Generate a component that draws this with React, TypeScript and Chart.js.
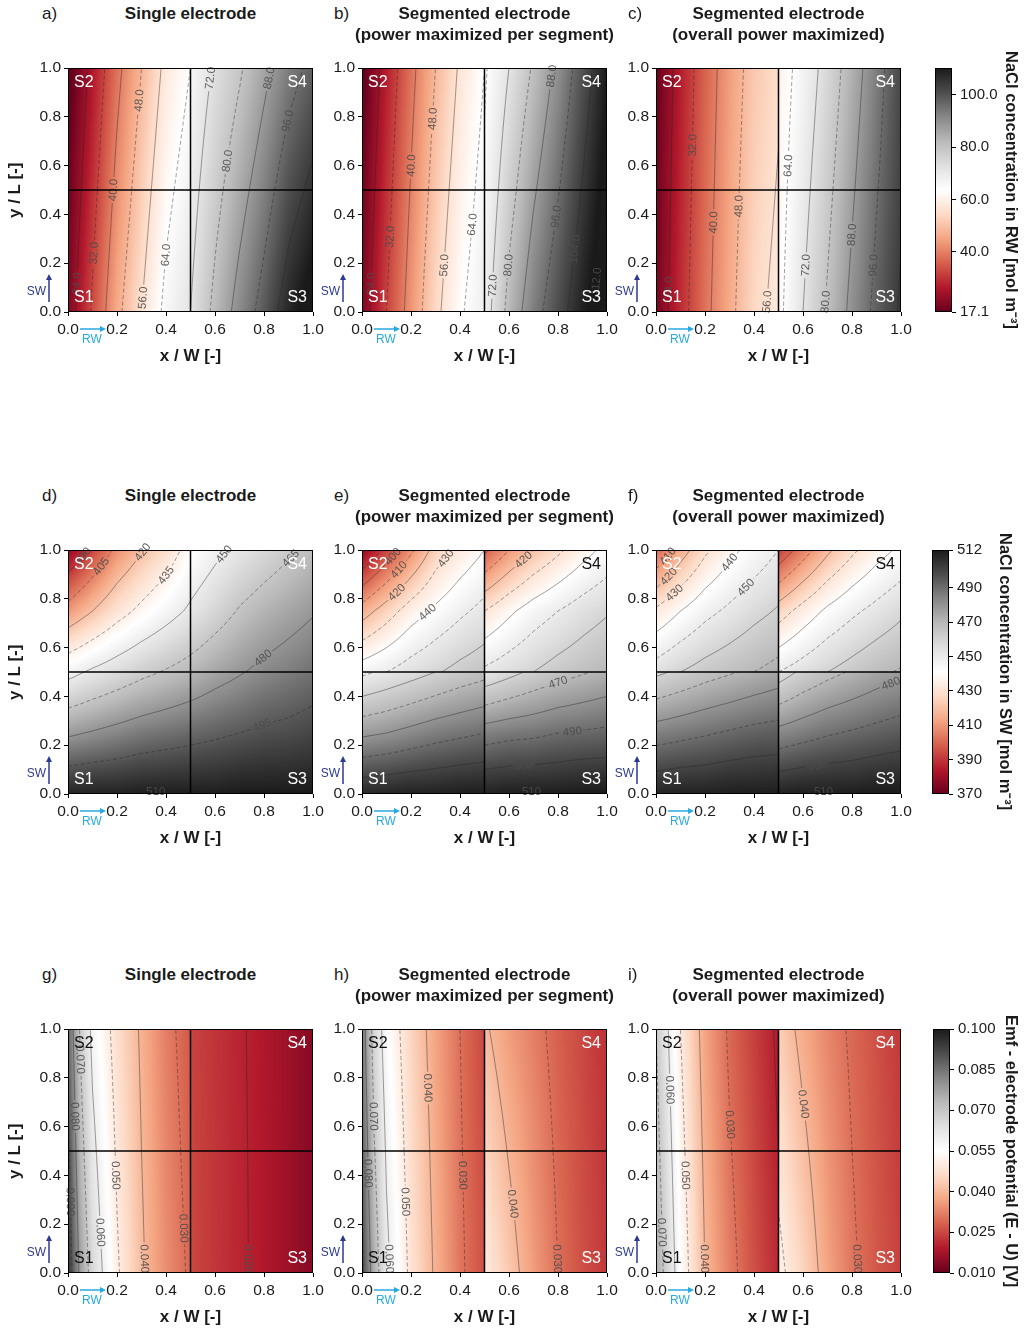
import React, { useEffect, useRef } from "react";
import { Chart, registerables } from "chart.js";
Chart.register(...registerables);

const FONT = "'Liberation Sans', Arial, Helvetica, sans-serif";

// ---------------- colour map (RdGy) ----------------
const RDGY = ["#67001f", "#b2182b", "#d6604d", "#f4a582", "#fddbc7", "#ffffff", "#e0e0e0", "#bababa", "#878787", "#4d4d4d", "#1a1a1a"];

// ---------------- value ranges, ticks, contour levels ----------------
const RW_RANGE = [17.1, 110.2];
const SW_RANGE = [370, 512];
const EMF_RANGE = [0.01, 0.1];
const RW_CB_TICKS = [17.1, 40, 60, 80, 100];
const SW_CB_TICKS = [370, 390, 410, 430, 450, 470, 490, 512];
const EMF_CB_TICKS = [0.01, 0.025, 0.04, 0.055, 0.07, 0.085, 0.1];
const RW_LEVELS = [24, 32, 40, 48, 56, 64, 72, 80, 88, 96, 104, 112];
const SW_LEVELS_D = [390, 405, 420, 435, 450, 465, 480, 495, 510];
const SW_LEVELS_EF = [380, 390, 400, 410, 420, 430, 440, 450, 460, 470, 480, 490, 500, 510];
const EMF_LEVELS = [0.02, 0.03, 0.04, 0.05, 0.06, 0.07, 0.08, 0.09];
const AXIS_TICKS = [0, 0.2, 0.4, 0.6, 0.8, 1.0];

// ---------------- grid nodes (x / W, y / L) ----------------
const X_LEFT = [0, 0.1, 0.2, 0.3, 0.4, 0.5];
const X_RIGHT = [0.5, 0.6, 0.7, 0.8, 0.9, 1.0];
const X_LEFT_EMF = [0, 0.05, 0.1, 0.2, 0.3, 0.4, 0.5];
const Y_LOW2 = [0, 0.5];
const Y_HIGH2 = [0.5, 1.0];
const Y_LOW3 = [0, 0.25, 0.5];
const Y_HIGH3 = [0.5, 0.75, 1.0];

// ---------------- RW concentration (rows = increasing y) ----------------
const A_S1 = [[20, 33, 46, 56, 66, 72], [17.5, 29.5, 42, 52, 62, 68]];
const A_S2 = [[17.5, 29.5, 42, 52, 62, 68], [15, 26, 38, 48, 58, 64]];
const A_S3 = [[72, 82, 91, 99, 108, 114], [69, 77.5, 85, 92.5, 100.5, 106]];
const A_S4 = [[69, 77.5, 85, 92.5, 100.5, 106], [66, 73, 79, 86, 93, 98]];

const B_S1 = [[20, 32, 43, 54, 63, 69], [18, 29.5, 40.5, 51, 60, 66.5]];
const B_S2 = [[18, 29.5, 40.5, 51, 60, 66.5], [16, 27, 38, 48, 57, 64]];
const B_S3 = [[68, 82.5, 93, 101, 109, 116], [65.5, 77, 87, 95.5, 104.5, 113]];
const B_S4 = [[65.5, 77, 87, 95.5, 104.5, 113], [63, 72, 81, 90, 100, 110]];

const C_S1 = [[19, 29, 38, 46, 54, 58], [18, 28, 37, 45, 52.5, 56.5]];
const C_S2 = [[18, 28, 37, 45, 52.5, 56.5], [17, 27, 36, 44, 51, 55]];
const C_S3 = [[62, 72, 81, 90, 98, 105], [61, 69.5, 78, 87, 95.5, 103]];
const C_S4 = [[61, 69.5, 78, 87, 95.5, 103], [60, 67, 75, 84, 93, 102]];

// ---------------- SW concentration ----------------
const D_S1 = [[509, 510, 510, 511, 511, 511], [478, 481, 484, 487, 489, 491], [446, 452, 457, 462, 466, 470]];
const D_S2 = [[446, 452, 457, 462, 466, 470], [410, 420, 430, 438, 445, 452], [378, 393, 408, 419, 428, 440]];
const D_S3 = [[511, 511, 512, 512, 512, 512], [491, 493, 495, 497, 498, 500], [470, 475, 479, 483, 486, 489]];
const D_S4 = [[470, 475, 479, 483, 486, 489], [452, 459, 466, 471, 475, 479], [440, 447, 453, 458, 463, 468]];

const E_S1 = [[508, 509, 510, 510, 511, 511], [478, 480, 483, 486, 488, 490], [448, 452, 456, 460, 464, 467]];
const E_S2 = [[446, 450, 455, 459, 463, 466], [415, 425, 435, 442, 448, 453], [378, 393, 408, 424, 433, 440]];
const E_S3 = [[510, 511, 511, 511, 512, 512], [485, 487, 488, 490, 491, 492], [452, 457, 462, 466, 469, 472]];
const E_S4 = [[452, 456, 460, 464, 467, 470], [430, 438, 445, 450, 455, 459], [398, 410, 420, 428, 436, 443]];

const F_S1 = [[509, 510, 510, 511, 511, 511], [485, 487, 489, 491, 493, 494], [458, 462, 466, 469, 472, 475]];
const F_S2 = [[455, 460, 464, 467, 470, 473], [432, 440, 447, 452, 457, 461], [400, 415, 428, 437, 444, 450]];
const F_S3 = [[510, 511, 511, 511, 512, 512], [483, 486, 489, 491, 493, 495], [455, 462, 467, 471, 475, 478]];
const F_S4 = [[450, 455, 460, 464, 468, 471], [425, 434, 442, 448, 453, 458], [392, 405, 418, 428, 436, 442]];

// ---------------- Emf - electrode potential ----------------
const G_S1 = [[0.096, 0.078, 0.066, 0.051, 0.041, 0.034, 0.029], [0.092, 0.0735, 0.062, 0.049, 0.04, 0.033, 0.028]];
const G_S2 = [[0.092, 0.0735, 0.062, 0.049, 0.04, 0.033, 0.028], [0.088, 0.069, 0.058, 0.047, 0.039, 0.032, 0.027]];
const G_S3 = [[0.025, 0.0228, 0.0207, 0.0188, 0.0165, 0.0135], [0.0248, 0.0227, 0.0206, 0.0188, 0.0165, 0.0135]];
const G_S4 = [[0.0248, 0.0227, 0.0206, 0.0188, 0.0165, 0.0135], [0.0245, 0.0225, 0.0205, 0.0187, 0.0164, 0.0135]];

const H_S1 = [[0.092, 0.075, 0.062, 0.048, 0.039, 0.031, 0.026], [0.0885, 0.0705, 0.059, 0.0465, 0.038, 0.0305, 0.0255]];
const H_S2 = [[0.0885, 0.0705, 0.059, 0.0465, 0.038, 0.0305, 0.0255], [0.085, 0.066, 0.056, 0.045, 0.037, 0.03, 0.025]];
const H_S3 = [[0.05, 0.043, 0.036, 0.03, 0.026, 0.023], [0.0455, 0.0395, 0.034, 0.029, 0.0255, 0.0225]];
const H_S4 = [[0.0455, 0.0395, 0.034, 0.029, 0.0255, 0.0225], [0.041, 0.036, 0.032, 0.028, 0.025, 0.022]];

const I_S1 = [[0.076, 0.066, 0.055, 0.04, 0.032, 0.026, 0.021], [0.073, 0.063, 0.0525, 0.0385, 0.0305, 0.025, 0.02]];
const I_S2 = [[0.073, 0.063, 0.0525, 0.0385, 0.0305, 0.025, 0.02], [0.07, 0.06, 0.05, 0.037, 0.029, 0.024, 0.019]];
const I_S3 = [[0.052, 0.045, 0.037, 0.031, 0.027, 0.024], [0.048, 0.0415, 0.035, 0.03, 0.0265, 0.0235]];
const I_S4 = [[0.048, 0.0415, 0.035, 0.03, 0.0265, 0.0235], [0.044, 0.038, 0.033, 0.029, 0.026, 0.023]];

// ---------------- contour label positions [level, x, y] ----------------
const A_LABELS = [[24, 0.03, 0.12], [32, 0.11, 0.24], [40, 0.18, 0.5], [48, 0.27, 0.87], [56, 0.31, 0.06], [64, 0.39, 0.23], [72, 0.58, 0.96], [80, 0.66, 0.62], [88, 0.86, 0.95], [96, 0.98, 0.77]];
const B_LABELS = [[24, 0.03, 0.12], [32, 0.12, 0.31], [40, 0.19, 0.6], [48, 0.28, 0.79], [56, 0.35, 0.19], [64, 0.46, 0.36], [72, 0.53, 0.105], [80, 0.6, 0.19], [88, 0.77, 0.97], [96, 0.8, 0.39], [104, 0.88, 0.26], [112, 0.97, 0.12]];
const C_LABELS = [[24, 0.03, 0.1], [32, 0.14, 0.68], [40, 0.23, 0.365], [48, 0.34, 0.43], [56, 0.44, 0.04], [64, 0.55, 0.6], [72, 0.62, 0.19], [80, 0.69, 0.04], [88, 0.81, 0.32], [96, 0.9, 0.19]];
const D_LABELS = [[390, 0.08, 0.96], [405, 0.16, 0.92], [420, 0.33, 0.97], [435, 0.41, 0.89], [450, 0.65, 0.97], [465, 0.92, 0.96], [480, 0.78, 0.58], [495, 0.78, 0.3], [510, 0.36, 0.02]];
const E_LABELS = [[400, 0.13, 0.97], [410, 0.15, 0.92], [420, 0.15, 0.82], [430, 0.35, 0.96], [440, 0.27, 0.74], [420, 0.66, 0.96], [470, 0.795, 0.47], [490, 0.86, 0.27], [500, 0.66, 0.11], [510, 0.69, 0.02]];
const F_LABELS = [[410, 0.05, 0.97], [420, 0.07, 0.88], [430, 0.095, 0.8], [440, 0.29, 0.96], [450, 0.33, 0.88], [480, 0.96, 0.46], [500, 0.66, 0.12], [510, 0.68, 0.02]];
const G_LABELS = [[0.07, 0.053, 0.875], [0.08, 0.026, 0.64], [0.09, 0.012, 0.29], [0.06, 0.14, 0.17], [0.05, 0.2, 0.4], [0.04, 0.32, 0.06], [0.03, 0.475, 0.18], [0.02, 0.74, 0.06]];
const H_LABELS = [[0.07, 0.045, 0.64], [0.08, 0.016, 0.41], [0.06, 0.11, 0.06], [0.05, 0.17, 0.29], [0.04, 0.26, 0.76], [0.03, 0.41, 0.4], [0.04, 0.57, 0.28], [0.03, 0.79, 0.06]];
const I_LABELS = [[0.06, 0.054, 0.75], [0.05, 0.11, 0.4], [0.07, 0.02, 0.17], [0.04, 0.2, 0.06], [0.03, 0.32, 0.61], [0.04, 0.585, 0.69], [0.03, 0.79, 0.06]];

// ---------------- text ----------------
const TITLE_SINGLE = ["Single electrode"];
const TITLE_SEG = ["Segmented electrode", "(power maximized per segment)"];
const TITLE_OVR = ["Segmented electrode", "(overall power maximized)"];
const CB_LABELS = ["NaCl concentration in RW [mol m\u207B\u00B3]", "NaCl concentration in SW [mol m\u207B\u00B3]", "Emf - electrode potential (E - U) [V]"];
const SEG_NAMES = ["S1", "S2", "S3", "S4"];

// ---------------- layout ----------------
const ROW_TOP = [68, 550, 1029];
const COL_LEFT = [68, 362, 656];
const LETTER_LEFT = [42, 334, 628];
const PLOT_W = 245;
const PLOT_H = 244;
const CB_LEFT = [935, 932, 933];
const CB_W = 17;
const CB_LABEL_X = [1012, 1006, 1012];

const fmtRW = (v: number) => v.toFixed(1);
const fmtSW = (v: number) => String(Math.round(v));
const fmtEMF = (v: number) => v.toFixed(3);

type Quad = { xs: number[]; ys: number[]; z: number[][]; x0: number; x1: number; y0: number; y1: number };
type PanelDef = {
  id: string; row: number; col: number; title: string[]; range: number[]; levels: number[];
  fmt: (v: number) => string; quads: Quad[]; labels: number[][]; segColors: string[];
};

function makeQuads(xl: number[], yb: number[], yt: number[], s: number[][][]): Quad[] {
  return [
    { xs: xl, ys: yb, z: s[0], x0: 0, x1: 0.5, y0: 0, y1: 0.5 },
    { xs: xl, ys: yt, z: s[1], x0: 0, x1: 0.5, y0: 0.5, y1: 1 },
    { xs: X_RIGHT, ys: yb, z: s[2], x0: 0.5, x1: 1, y0: 0, y1: 0.5 },
    { xs: X_RIGHT, ys: yt, z: s[3], x0: 0.5, x1: 1, y0: 0.5, y1: 1 },
  ];
}

const W4 = ["#fff", "#fff", "#fff", "#fff"];
const PANELS: PanelDef[] = [
  { id: "a", row: 0, col: 0, title: TITLE_SINGLE, range: RW_RANGE, levels: RW_LEVELS, fmt: fmtRW, quads: makeQuads(X_LEFT, Y_LOW2, Y_HIGH2, [A_S1, A_S2, A_S3, A_S4]), labels: A_LABELS, segColors: W4 },
  { id: "b", row: 0, col: 1, title: TITLE_SEG, range: RW_RANGE, levels: RW_LEVELS, fmt: fmtRW, quads: makeQuads(X_LEFT, Y_LOW2, Y_HIGH2, [B_S1, B_S2, B_S3, B_S4]), labels: B_LABELS, segColors: W4 },
  { id: "c", row: 0, col: 2, title: TITLE_OVR, range: RW_RANGE, levels: RW_LEVELS, fmt: fmtRW, quads: makeQuads(X_LEFT, Y_LOW2, Y_HIGH2, [C_S1, C_S2, C_S3, C_S4]), labels: C_LABELS, segColors: W4 },
  { id: "d", row: 1, col: 0, title: TITLE_SINGLE, range: SW_RANGE, levels: SW_LEVELS_D, fmt: fmtSW, quads: makeQuads(X_LEFT, Y_LOW3, Y_HIGH3, [D_S1, D_S2, D_S3, D_S4]), labels: D_LABELS, segColors: W4 },
  { id: "e", row: 1, col: 1, title: TITLE_SEG, range: SW_RANGE, levels: SW_LEVELS_EF, fmt: fmtSW, quads: makeQuads(X_LEFT, Y_LOW3, Y_HIGH3, [E_S1, E_S2, E_S3, E_S4]), labels: E_LABELS, segColors: ["#fff", "#fff", "#fff", "#111"] },
  { id: "f", row: 1, col: 2, title: TITLE_OVR, range: SW_RANGE, levels: SW_LEVELS_EF, fmt: fmtSW, quads: makeQuads(X_LEFT, Y_LOW3, Y_HIGH3, [F_S1, F_S2, F_S3, F_S4]), labels: F_LABELS, segColors: ["#fff", "#fff", "#fff", "#111"] },
  { id: "g", row: 2, col: 0, title: TITLE_SINGLE, range: EMF_RANGE, levels: EMF_LEVELS, fmt: fmtEMF, quads: makeQuads(X_LEFT_EMF, Y_LOW2, Y_HIGH2, [G_S1, G_S2, G_S3, G_S4]), labels: G_LABELS, segColors: ["#111", "#111", "#fff", "#fff"] },
  { id: "h", row: 2, col: 1, title: TITLE_SEG, range: EMF_RANGE, levels: EMF_LEVELS, fmt: fmtEMF, quads: makeQuads(X_LEFT_EMF, Y_LOW2, Y_HIGH2, [H_S1, H_S2, H_S3, H_S4]), labels: H_LABELS, segColors: ["#111", "#111", "#fff", "#fff"] },
  { id: "i", row: 2, col: 2, title: TITLE_OVR, range: EMF_RANGE, levels: EMF_LEVELS, fmt: fmtEMF, quads: makeQuads(X_LEFT_EMF, Y_LOW2, Y_HIGH2, [I_S1, I_S2, I_S3, I_S4]), labels: I_LABELS, segColors: ["#111", "#111", "#fff", "#fff"] },
];

const COLORBARS = [
  { row: 0, range: RW_RANGE, ticks: RW_CB_TICKS, fmt: fmtRW, label: CB_LABELS[0] },
  { row: 1, range: SW_RANGE, ticks: SW_CB_TICKS, fmt: fmtSW, label: CB_LABELS[1] },
  { row: 2, range: EMF_RANGE, ticks: EMF_CB_TICKS, fmt: fmtEMF, label: CB_LABELS[2] },
];

// ---------------- helpers ----------------
const STOPS = RDGY.map((h) => [parseInt(h.slice(1, 3), 16), parseInt(h.slice(3, 5), 16), parseInt(h.slice(5, 7), 16)]);
function cmap(t: number): number[] {
  const tt = Math.min(1, Math.max(0, t)) * (STOPS.length - 1);
  const i = Math.min(STOPS.length - 2, Math.floor(tt));
  const f = tt - i;
  const a = STOPS[i], b = STOPS[i + 1];
  return [a[0] + (b[0] - a[0]) * f, a[1] + (b[1] - a[1]) * f, a[2] + (b[2] - a[2]) * f];
}

function bilinear(q: Quad, x: number, y: number): number {
  const { xs, ys, z } = q;
  let i = 0;
  while (i < xs.length - 2 && x > xs[i + 1]) i++;
  let j = 0;
  while (j < ys.length - 2 && y > ys[j + 1]) j++;
  const tx = Math.min(1, Math.max(0, (x - xs[i]) / (xs[i + 1] - xs[i])));
  const ty = Math.min(1, Math.max(0, (y - ys[j]) / (ys[j + 1] - ys[j])));
  const v0 = z[j][i] * (1 - tx) + z[j][i + 1] * tx;
  const v1 = z[j + 1][i] * (1 - tx) + z[j + 1][i + 1] * tx;
  return v0 * (1 - ty) + v1 * ty;
}

function quadFor(p: PanelDef, x: number, y: number): Quad {
  return p.quads[x < 0.5 ? (y < 0.5 ? 0 : 1) : y < 0.5 ? 2 : 3];
}

type Pt = [number, number];
function sampleQuad(q: Quad, N: number): number[][] {
  const vals: number[][] = [];
  for (let j = 0; j <= N; j++) {
    const row: number[] = [];
    const y = q.y0 + ((q.y1 - q.y0) * j) / N;
    for (let i = 0; i <= N; i++) row.push(bilinear(q, q.x0 + ((q.x1 - q.x0) * i) / N, y));
    vals.push(row);
  }
  return vals;
}

function marching(vals: number[][], q: Quad, N: number, lv: number): Pt[][] {
  const gx = (i: number) => q.x0 + ((q.x1 - q.x0) * i) / N;
  const gy = (j: number) => q.y0 + ((q.y1 - q.y0) * j) / N;
  const pts = new Map<string, Pt>();
  const adj = new Map<string, string[]>();
  const link = (a: string, b: string) => {
    if (!adj.has(a)) adj.set(a, []);
    if (!adj.has(b)) adj.set(b, []);
    adj.get(a)!.push(b);
    adj.get(b)!.push(a);
  };
  for (let j = 0; j < N; j++) {
    for (let i = 0; i < N; i++) {
      const a = vals[j][i], b = vals[j][i + 1], c = vals[j + 1][i + 1], d = vals[j + 1][i];
      const edges: string[] = [];
      const test = (va: number, vb: number, key: string, p0: Pt, p1: Pt) => {
        if (va >= lv !== vb >= lv) {
          const t = (lv - va) / (vb - va);
          if (!pts.has(key)) pts.set(key, [p0[0] + (p1[0] - p0[0]) * t, p0[1] + (p1[1] - p0[1]) * t]);
          edges.push(key);
        } else edges.push("");
      };
      test(a, b, `h${i},${j}`, [gx(i), gy(j)], [gx(i + 1), gy(j)]);
      test(b, c, `v${i + 1},${j}`, [gx(i + 1), gy(j)], [gx(i + 1), gy(j + 1)]);
      test(d, c, `h${i},${j + 1}`, [gx(i), gy(j + 1)], [gx(i + 1), gy(j + 1)]);
      test(a, d, `v${i},${j}`, [gx(i), gy(j)], [gx(i), gy(j + 1)]);
      const act = edges.filter((e) => e);
      if (act.length === 2) link(act[0], act[1]);
      else if (act.length === 4) {
        const center = (a + b + c + d) / 4;
        if (center >= lv === a >= lv) {
          link(edges[0], edges[1]);
          link(edges[2], edges[3]);
        } else {
          link(edges[0], edges[3]);
          link(edges[2], edges[1]);
        }
      }
    }
  }
  const visited = new Set<string>();
  const lines: Pt[][] = [];
  const walk = (start: string) => {
    const line: Pt[] = [pts.get(start)!];
    visited.add(start);
    let cur = start;
    for (;;) {
      const next = (adj.get(cur) || []).find((n) => !visited.has(n));
      if (!next) break;
      visited.add(next);
      line.push(pts.get(next)!);
      cur = next;
    }
    return line;
  };
  adj.forEach((n, k) => {
    if (n.length === 1 && !visited.has(k)) lines.push(walk(k));
  });
  adj.forEach((_n, k) => {
    if (!visited.has(k)) lines.push(walk(k));
  });
  return lines;
}

function drawArrow(ctx: CanvasRenderingContext2D, x0: number, y0: number, x1: number, y1: number, color: string) {
  const ang = Math.atan2(y1 - y0, x1 - x0);
  const hl = 6, hw = 3;
  ctx.save();
  ctx.strokeStyle = color;
  ctx.fillStyle = color;
  ctx.lineWidth = 1.5;
  ctx.beginPath();
  ctx.moveTo(x0, y0);
  ctx.lineTo(x1 - Math.cos(ang) * hl * 0.8, y1 - Math.sin(ang) * hl * 0.8);
  ctx.stroke();
  ctx.beginPath();
  ctx.moveTo(x1, y1);
  ctx.lineTo(x1 - Math.cos(ang) * hl - Math.sin(ang) * hw, y1 - Math.sin(ang) * hl + Math.cos(ang) * hw);
  ctx.lineTo(x1 - Math.cos(ang) * hl + Math.sin(ang) * hw, y1 - Math.sin(ang) * hl - Math.cos(ang) * hw);
  ctx.closePath();
  ctx.fill();
  ctx.restore();
}

// ---------------- panel chart ----------------
const PAD_L = 50, PAD_T = 14, PAD_R = 18, PAD_B = 34;
const CANVAS_W = PAD_L + PLOT_W + PAD_R;
const CANVAS_H = PAD_T + PLOT_H + PAD_B;
const TICK_FONT = 15.5;

function fieldPlugin(p: PanelDef) {
  return {
    id: "field_" + p.id,
    afterDraw(chart: any) {
      const ctx: CanvasRenderingContext2D = chart.ctx;
      const xs = chart.scales.x, ys = chart.scales.y;
      const ca = chart.chartArea;
      const L = Math.round(ca.left), T = Math.round(ca.top), R = Math.round(ca.right), B = Math.round(ca.bottom);
      const w = R - L, h = B - T;
      const [vmin, vmax] = p.range;
      // heat map
      const off = document.createElement("canvas");
      off.width = w;
      off.height = h;
      const octx = off.getContext("2d")!;
      const img = octx.createImageData(w, h);
      const xv: number[] = [], yv: number[] = [];
      for (let i = 0; i < w; i++) xv.push(xs.getValueForPixel(L + i + 0.5));
      for (let j = 0; j < h; j++) yv.push(ys.getValueForPixel(T + j + 0.5));
      for (let j = 0; j < h; j++) {
        for (let i = 0; i < w; i++) {
          const v = bilinear(quadFor(p, xv[i], yv[j]), xv[i], yv[j]);
          const c = cmap((v - vmin) / (vmax - vmin));
          const k = (j * w + i) * 4;
          img.data[k] = c[0];
          img.data[k + 1] = c[1];
          img.data[k + 2] = c[2];
          img.data[k + 3] = 255;
        }
      }
      octx.putImageData(img, 0, 0);
      ctx.save();
      ctx.drawImage(off, L, T);

      // contours
      const N = 60;
      const lines: { level: number; idx: number; pts: Pt[] }[] = [];
      p.quads.forEach((q) => {
        const vals = sampleQuad(q, N);
        p.levels.forEach((lv, idx) => {
          marching(vals, q, N, lv).forEach((ln) => {
            if (ln.length < 2) return;
            lines.push({ level: lv, idx, pts: ln.map(([x, y]) => [xs.getPixelForValue(x), ys.getPixelForValue(y)] as Pt) });
          });
        });
      });

      // labels
      const LFONT = `11.5px ${FONT}`;
      ctx.font = LFONT;
      const placed: { x: number; y: number; ang: number; text: string; hw: number; hh: number }[] = [];
      p.labels.forEach(([lv, lx, ly]) => {
        const tx = xs.getPixelForValue(lx), ty = ys.getPixelForValue(ly);
        let best: { pts: Pt[]; k: number } | null = null;
        let bd = 1e9;
        lines.forEach((ln) => {
          if (Math.abs(ln.level - lv) > 1e-9 * Math.max(1, Math.abs(lv))) return;
          ln.pts.forEach((pt, k) => {
            const d = Math.hypot(pt[0] - tx, pt[1] - ty);
            if (d < bd) {
              bd = d;
              best = { pts: ln.pts, k };
            }
          });
        });
        if (!best || bd > 45) return;
        const { pts, k } = best as { pts: Pt[]; k: number };
        const a = pts[Math.max(0, k - 3)], b = pts[Math.min(pts.length - 1, k + 3)];
        let ang = Math.atan2(b[1] - a[1], b[0] - a[0]);
        if (ang > Math.PI / 2) ang -= Math.PI;
        if (ang <= -Math.PI / 2) ang += Math.PI;
        const text = p.fmt(lv);
        const tw = ctx.measureText(text).width;
        placed.push({ x: pts[k][0], y: pts[k][1], ang, text, hw: tw / 2 + 2, hh: 5.5 });
      });

      ctx.save();
      ctx.beginPath();
      ctx.rect(L, T, w, h);
      placed.forEach((lb) => {
        const c = Math.cos(lb.ang), s = Math.sin(lb.ang);
        const cs = [[-lb.hw, -lb.hh], [lb.hw, -lb.hh], [lb.hw, lb.hh], [-lb.hw, lb.hh]].map(([u, v]) => [lb.x + u * c - v * s, lb.y + u * s + v * c]);
        ctx.moveTo(cs[0][0], cs[0][1]);
        for (let m = 1; m < 4; m++) ctx.lineTo(cs[m][0], cs[m][1]);
        ctx.closePath();
      });
      ctx.clip("evenodd");
      ctx.strokeStyle = "rgba(40,40,40,0.6)";
      ctx.lineWidth = 0.75;
      lines.forEach((ln) => {
        ctx.setLineDash(ln.idx % 2 ? [4, 2.5] : []);
        ctx.beginPath();
        ctx.moveTo(ln.pts[0][0], ln.pts[0][1]);
        for (let m = 1; m < ln.pts.length; m++) ctx.lineTo(ln.pts[m][0], ln.pts[m][1]);
        ctx.stroke();
      });
      ctx.restore();

      ctx.fillStyle = "rgba(75,75,75,0.9)";
      ctx.font = LFONT;
      ctx.textAlign = "center";
      ctx.textBaseline = "middle";
      placed.forEach((lb) => {
        ctx.save();
        ctx.translate(lb.x, lb.y);
        ctx.rotate(lb.ang);
        ctx.fillText(lb.text, 0, 0.5);
        ctx.restore();
      });

      // segment boundaries
      const xm = xs.getPixelForValue(0.5), ym = ys.getPixelForValue(0.5);
      ctx.strokeStyle = "#000";
      ctx.lineWidth = 1.5;
      ctx.setLineDash([]);
      ctx.beginPath();
      ctx.moveTo(xm, T);
      ctx.lineTo(xm, B);
      ctx.moveTo(L, ym);
      ctx.lineTo(R, ym);
      ctx.stroke();
      // frame
      ctx.lineWidth = 1;
      ctx.strokeRect(L + 0.5, T + 0.5, w - 1, h - 1);

      // segment names
      ctx.font = `16px ${FONT}`;
      ctx.textBaseline = "alphabetic";
      ctx.fillStyle = p.segColors[0];
      ctx.textAlign = "left";
      ctx.fillText(SEG_NAMES[0], L + 6, B - 10);
      ctx.fillStyle = p.segColors[1];
      ctx.fillText(SEG_NAMES[1], L + 6, T + 19);
      ctx.textAlign = "right";
      ctx.fillStyle = p.segColors[2];
      ctx.fillText(SEG_NAMES[2], R - 6, B - 10);
      ctx.fillStyle = p.segColors[3];
      ctx.fillText(SEG_NAMES[3], R - 6, T + 19);

      // flow direction markers
      drawArrow(ctx, L - 19, B - 10, L - 19, B - 38, "#2b3990");
      ctx.font = `12px ${FONT}`;
      ctx.fillStyle = "#2b3990";
      ctx.textAlign = "right";
      ctx.textBaseline = "middle";
      ctx.fillText("SW", L - 22, B - 20);
      drawArrow(ctx, L + 12, B + 17, L + 38, B + 17, "#27aae1");
      ctx.fillStyle = "#27aae1";
      ctx.textAlign = "center";
      ctx.fillText("RW", L + 24, B + 28);
      ctx.restore();
    },
  };
}

function zeroPad(s: any) {
  s.paddingLeft = 0;
  s.paddingRight = 0;
  s.paddingTop = 0;
  s.paddingBottom = 0;
}

function axisOpts(pos: "x" | "y") {
  return {
    type: "linear" as const,
    position: pos === "x" ? ("bottom" as const) : ("left" as const),
    min: 0,
    max: 1,
    afterBuildTicks: (s: any) => {
      s.ticks = AXIS_TICKS.map((v) => ({ value: v }));
    },
    afterFit: (s: any) => {
      if (pos === "x") s.height = PAD_B - 4;
      else s.width = PAD_L - 4;
      zeroPad(s);
    },
    ticks: {
      autoSkip: false,
      maxRotation: 0,
      padding: pos === "x" ? 4 : 3,
      color: "#1a1a1a",
      font: { family: FONT, size: TICK_FONT },
      callback: (v: any) => Number(v).toFixed(1),
    },
    grid: { display: true, drawOnChartArea: false, drawTicks: true, tickLength: 4, tickColor: "#000", tickWidth: 1 },
    border: { display: false },
  };
}

function Panel({ p }: { p: PanelDef }) {
  const ref = useRef<HTMLCanvasElement>(null);
  useEffect(() => {
    const chart = new Chart(ref.current!, {
      type: "scatter",
      data: { datasets: [{ data: [] }] },
      options: {
        responsive: false,
        maintainAspectRatio: false,
        animation: false,
        devicePixelRatio: 1,
        events: [],
        layout: { padding: { left: 4, top: PAD_T, right: PAD_R, bottom: 4 } },
        plugins: { legend: { display: false }, tooltip: { enabled: false } },
        scales: { x: axisOpts("x"), y: axisOpts("y") } as any,
      },
      plugins: [fieldPlugin(p)],
    });
    return () => chart.destroy();
  }, [p]);
  const left = COL_LEFT[p.col] - PAD_L;
  const top = ROW_TOP[p.row] - PAD_T;
  return <canvas ref={ref} width={CANVAS_W} height={CANVAS_H} style={{ position: "absolute", left, top, width: CANVAS_W, height: CANVAS_H }} />;
}

// ---------------- colour bar chart ----------------
const CB_PAD_L = 2, CB_PAD_T = 14, CB_AX_W = 62;
function ColorBar({ c }: { c: (typeof COLORBARS)[number] }) {
  const ref = useRef<HTMLCanvasElement>(null);
  useEffect(() => {
    const chart = new Chart(ref.current!, {
      type: "scatter",
      data: { datasets: [{ data: [] }] },
      options: {
        responsive: false,
        maintainAspectRatio: false,
        animation: false,
        devicePixelRatio: 1,
        events: [],
        layout: { padding: { left: CB_PAD_L, top: CB_PAD_T, right: 0, bottom: CB_PAD_T } },
        plugins: { legend: { display: false }, tooltip: { enabled: false } },
        scales: {
          x: { display: false, min: 0, max: 1, afterFit: zeroPad },
          y: {
            type: "linear",
            position: "right",
            min: c.range[0],
            max: c.range[1],
            afterBuildTicks: (s: any) => {
              s.ticks = c.ticks.map((v) => ({ value: v }));
            },
            afterFit: (s: any) => {
              s.width = CB_AX_W;
              zeroPad(s);
            },
            ticks: { autoSkip: false, padding: 4, color: "#1a1a1a", font: { family: FONT, size: 15 }, callback: (v: any) => c.fmt(Number(v)) },
            grid: { display: true, drawOnChartArea: false, drawTicks: true, tickLength: 4, tickColor: "#000" },
            border: { display: false },
          },
        } as any,
      },
      plugins: [
        {
          id: "cbar",
          afterDraw(chart: any) {
            const ctx: CanvasRenderingContext2D = chart.ctx;
            const ys = chart.scales.y;
            const ca = chart.chartArea;
            const L = Math.round(ca.left), T = Math.round(ca.top), R = Math.round(ca.right), B = Math.round(ca.bottom);
            for (let py = T; py < B; py++) {
              const v = ys.getValueForPixel(py + 0.5);
              const col = cmap((v - c.range[0]) / (c.range[1] - c.range[0]));
              ctx.fillStyle = `rgb(${col[0] | 0},${col[1] | 0},${col[2] | 0})`;
              ctx.fillRect(L, py, R - L, 1);
            }
            ctx.strokeStyle = "#000";
            ctx.lineWidth = 1;
            ctx.strokeRect(L + 0.5, T + 0.5, R - L - 1, B - T - 1);
          },
        },
      ],
    });
    return () => chart.destroy();
  }, [c]);
  const w = CB_PAD_L + CB_W + CB_AX_W;
  const h = CB_PAD_T * 2 + PLOT_H;
  return <canvas ref={ref} width={w} height={h} style={{ position: "absolute", left: CB_LEFT[c.row] - CB_PAD_L, top: ROW_TOP[c.row] - CB_PAD_T, width: w, height: h }} />;
}

export default function App() {
  const texts: React.ReactNode[] = [];
  PANELS.forEach((p) => {
    const top = ROW_TOP[p.row];
    const cx = COL_LEFT[p.col] + PLOT_W / 2;
    texts.push(
      <div key={"l" + p.id} style={{ position: "absolute", left: LETTER_LEFT[p.col], top: top - 54 - 11, height: 22, lineHeight: "22px", fontSize: 17, color: "#1a1a1a" }}>
        {p.id + ")"}
      </div>
    );
    p.title.forEach((t, k) => {
      texts.push(
        <div key={"t" + p.id + k} style={{ position: "absolute", left: cx - 160, width: 320, textAlign: "center", top: top - 54 + k * 21 - 11, height: 22, lineHeight: "22px", fontSize: 17, fontWeight: "bold", color: "#1a1a1a", whiteSpace: "nowrap" }}>
          {t}
        </div>
      );
    });
    texts.push(
      <div key={"x" + p.id} style={{ position: "absolute", left: cx - 80, width: 160, textAlign: "center", top: top + PLOT_H + 44 - 11, height: 22, lineHeight: "22px", fontSize: 17, fontWeight: "bold", color: "#1a1a1a" }}>
        x / W [-]
      </div>
    );
    if (p.col === 0) {
      texts.push(
        <div key={"y" + p.id} style={{ position: "absolute", left: 15 - 11, top: top + PLOT_H / 2 - 80, height: 160, width: 22, lineHeight: "22px", writingMode: "vertical-rl", transform: "rotate(180deg)", textAlign: "center", fontSize: 17, fontWeight: "bold", color: "#1a1a1a" }}>
          y / L [-]
        </div>
      );
    }
  });
  COLORBARS.forEach((c) => {
    texts.push(
      <div key={"cb" + c.row} style={{ position: "absolute", left: CB_LABEL_X[c.row] - 10, top: ROW_TOP[c.row] + PLOT_H / 2 - 175, height: 350, width: 20, lineHeight: "20px", writingMode: "vertical-rl", textAlign: "center", fontSize: 16.5, fontWeight: "bold", color: "#1a1a1a", whiteSpace: "nowrap" }}>
        {c.label}
      </div>
    );
  });
  return (
    <div style={{ position: "absolute", left: 0, top: 0, width: 1033, height: 1331, background: "#fff", fontFamily: FONT, overflow: "hidden" }}>
      {PANELS.map((p) => (
        <Panel key={p.id} p={p} />
      ))}
      {COLORBARS.map((c) => (
        <ColorBar key={c.row} c={c} />
      ))}
      {texts}
    </div>
  );
}
